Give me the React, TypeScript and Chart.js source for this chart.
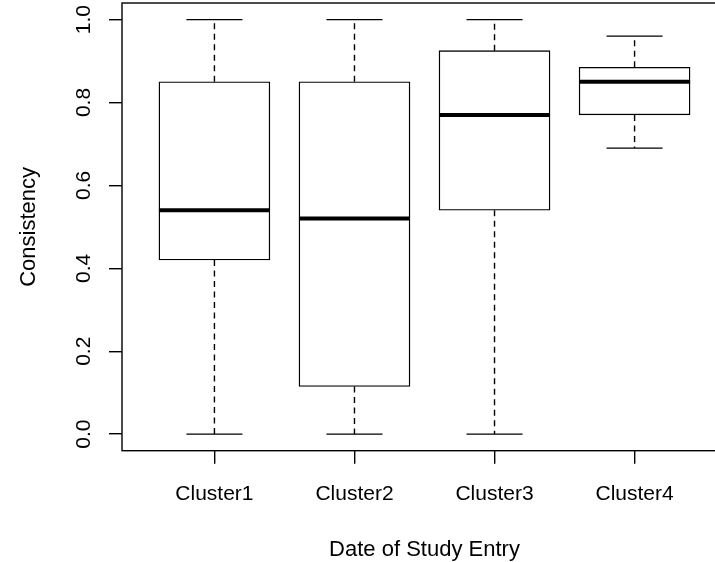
import React, { useEffect, useRef } from "react";
import { Chart, registerables } from "chart.js";

Chart.register(...registerables);

// Five-number summaries per cluster
const categories = ["Cluster1", "Cluster2", "Cluster3", "Cluster4"];
const mins = [0, 0, 0, 0.69];
const q1s = [0.42, 0.115, 0.54, 0.77];
const medians = [0.54, 0.52, 0.77, 0.85];
const q3s = [0.85, 0.85, 0.925, 0.885];
const maxs = [1, 1, 1, 0.96];

const yTicks = [0, 0.2, 0.4, 0.6, 0.8, 1.0];
const yTickLabels = ["0.0", "0.2", "0.4", "0.6", "0.8", "1.0"];

const xTitle = "Date of Study Entry";
const yTitle = "Consistency";

const TICK_FONT = '21px "Liberation Sans", Arial, sans-serif';
const TITLE_FONT = '22px "Liberation Sans", Arial, sans-serif';
const INK = "#000";

const boxplotPlugin = {
  id: "boxplotExtras",
  afterDatasetsDraw(chart: any) {
    const { ctx, scales } = chart;
    const xs = scales.x;
    const ys = scales.y;
    const capHalf = xs.getPixelForValue(1.2) - xs.getPixelForValue(1);
    ctx.save();
    ctx.strokeStyle = INK;
    categories.forEach((_, i) => {
      const cx = xs.getPixelForValue(i + 1);
      // dashed whiskers
      ctx.lineWidth = 1.4;
      ctx.setLineDash([6, 4.5]);
      ctx.beginPath();
      ctx.moveTo(cx, ys.getPixelForValue(q3s[i]));
      ctx.lineTo(cx, ys.getPixelForValue(maxs[i]));
      ctx.moveTo(cx, ys.getPixelForValue(q1s[i]));
      ctx.lineTo(cx, ys.getPixelForValue(mins[i]));
      ctx.stroke();
      // staples
      ctx.setLineDash([]);
      ctx.beginPath();
      const yMax = ys.getPixelForValue(maxs[i]);
      const yMin = ys.getPixelForValue(mins[i]);
      ctx.moveTo(cx - capHalf, yMax);
      ctx.lineTo(cx + capHalf, yMax);
      ctx.moveTo(cx - capHalf, yMin);
      ctx.lineTo(cx + capHalf, yMin);
      ctx.stroke();
      // median
      const meta = chart.getDatasetMeta(0);
      const bar = meta.data[i];
      const half = bar.width / 2;
      ctx.lineWidth = 4;
      ctx.lineCap = "butt";
      ctx.beginPath();
      const ym = ys.getPixelForValue(medians[i]);
      ctx.moveTo(cx - half, ym);
      ctx.lineTo(cx + half, ym);
      ctx.stroke();
    });
    ctx.restore();
  },
  afterDraw(chart: any) {
    const { ctx, chartArea, scales } = chart;
    const xs = scales.x;
    const ys = scales.y;
    ctx.save();
    // plot frame
    ctx.strokeStyle = INK;
    ctx.lineWidth = 1.4;
    ctx.strokeRect(
      chartArea.left,
      chartArea.top,
      chartArea.right - chartArea.left,
      chartArea.bottom - chartArea.top
    );
    ctx.fillStyle = INK;
    ctx.font = TICK_FONT;
    // category labels
    ctx.textAlign = "center";
    ctx.textBaseline = "alphabetic";
    categories.forEach((c, i) => {
      ctx.fillText(c, xs.getPixelForValue(i + 1), chartArea.bottom + 49.5);
    });
    // rotated y tick labels
    yTicks.forEach((v, i) => {
      ctx.save();
      ctx.translate(chartArea.left - 32, ys.getPixelForValue(v));
      ctx.rotate(-Math.PI / 2);
      ctx.fillText(yTickLabels[i], 0, 0);
      ctx.restore();
    });
    // axis titles
    ctx.font = TITLE_FONT;
    ctx.fillText(xTitle, (chartArea.left + chartArea.right) / 2, chartArea.bottom + 105.5);
    ctx.save();
    ctx.translate(chartArea.left - 87, (chartArea.top + chartArea.bottom) / 2);
    ctx.rotate(-Math.PI / 2);
    ctx.fillText(yTitle, 0, 0);
    ctx.restore();
    ctx.restore();
  },
};

export default function App() {
  const canvasRef = useRef<HTMLCanvasElement | null>(null);

  useEffect(() => {
    const canvas = canvasRef.current;
    if (!canvas) return;
    const chart = new Chart(canvas, {
      type: "bar",
      data: {
        datasets: [
          {
            data: categories.map((_, i) => ({ x: i + 1, y: [q1s[i], q3s[i]] })) as any,
            backgroundColor: "#ffffff",
            borderColor: INK,
            borderWidth: 1.4,
            borderSkipped: false,
            barThickness: 111,
          },
        ],
      },
      options: {
        responsive: false,
        animation: false,
        devicePixelRatio: 1,
        layout: { padding: { top: 3, right: 13, bottom: 0, left: 0 } },
        plugins: {
          legend: { display: false },
          tooltip: { enabled: false },
          title: { display: false },
        },
        scales: {
          x: {
            type: "linear",
            min: 0.34,
            max: 4.66,
            offset: false,
            afterBuildTicks: (scale: any) => {
              scale.ticks = categories.map((_, i) => ({ value: i + 1 }));
            },
            afterFit: (scale: any) => {
              scale.height = 111.3;
            },
            ticks: { display: false },
            grid: {
              offset: false,
              drawOnChartArea: false,
              drawTicks: true,
              tickLength: 13,
              color: INK,
              lineWidth: 1.4,
            },
            border: { display: false },
          },
          y: {
            type: "linear",
            min: -0.04,
            max: 1.04,
            afterBuildTicks: (scale: any) => {
              scale.ticks = yTicks.map((v) => ({ value: v }));
            },
            afterFit: (scale: any) => {
              scale.width = 122;
            },
            ticks: { display: false },
            grid: {
              drawOnChartArea: false,
              drawTicks: true,
              tickLength: 13,
              color: INK,
              lineWidth: 1.4,
            },
            border: { display: false },
          },
        },
      },
      plugins: [boxplotPlugin],
    });
    return () => chart.destroy();
  }, []);

  return (
    <div
      style={{
        position: "absolute",
        left: 0,
        top: 0,
        width: 715,
        height: 562,
        overflow: "hidden",
        background: "#fff",
      }}
    >
      <canvas
        ref={canvasRef}
        width={740}
        height={562}
        style={{ width: 740, height: 562, display: "block" }}
      />
    </div>
  );
}
